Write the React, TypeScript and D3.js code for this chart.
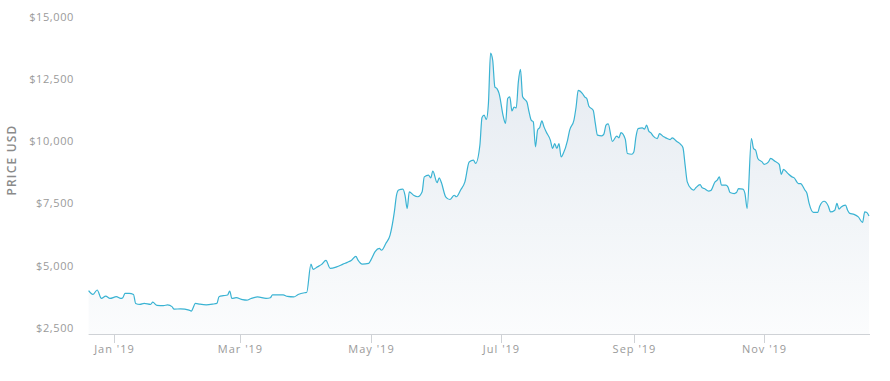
import React from "react";
import * as d3 from "d3";

const dates: string[] = [
  "2018-12-20","2018-12-22","2018-12-24","2018-12-26","2018-12-28","2018-12-30",
  "2019-01-02","2019-01-04","2019-01-05","2019-01-06","2019-01-08","2019-01-10","2019-01-11","2019-01-13","2019-01-15","2019-01-18","2019-01-19","2019-01-21","2019-01-24","2019-01-26","2019-01-28","2019-01-29",
  "2019-02-01","2019-02-05","2019-02-06","2019-02-08","2019-02-10","2019-02-13","2019-02-16","2019-02-18","2019-02-19","2019-02-21","2019-02-23","2019-02-24","2019-02-25","2019-02-27",
  "2019-03-02","2019-03-04","2019-03-06","2019-03-09","2019-03-13","2019-03-15","2019-03-16","2019-03-19","2019-03-21","2019-03-23","2019-03-26","2019-03-28","2019-03-31",
  "2019-04-01","2019-04-03","2019-04-04","2019-04-06","2019-04-08","2019-04-10","2019-04-12","2019-04-15","2019-04-18","2019-04-20","2019-04-22","2019-04-24","2019-04-25","2019-04-27","2019-04-30",
  "2019-05-01","2019-05-03","2019-05-05","2019-05-06","2019-05-08","2019-05-10","2019-05-12","2019-05-13","2019-05-14","2019-05-16","2019-05-17","2019-05-18","2019-05-19","2019-05-21","2019-05-23","2019-05-25","2019-05-26","2019-05-28","2019-05-29","2019-05-30",
  "2019-06-01","2019-06-02","2019-06-03","2019-06-05","2019-06-07","2019-06-09","2019-06-10","2019-06-12","2019-06-14","2019-06-16","2019-06-18","2019-06-19","2019-06-21","2019-06-22","2019-06-23","2019-06-24","2019-06-25","2019-06-26","2019-06-27","2019-06-28","2019-06-29","2019-06-30",
  "2019-07-02","2019-07-03","2019-07-04","2019-07-05","2019-07-06","2019-07-07","2019-07-08","2019-07-09","2019-07-10","2019-07-11","2019-07-13","2019-07-14","2019-07-15","2019-07-16","2019-07-17","2019-07-18","2019-07-19","2019-07-20","2019-07-21","2019-07-22","2019-07-24","2019-07-25","2019-07-26","2019-07-27","2019-07-28","2019-07-29","2019-07-30",
  "2019-08-01","2019-08-02","2019-08-04","2019-08-05","2019-08-06","2019-08-08","2019-08-09","2019-08-10","2019-08-11","2019-08-13","2019-08-14","2019-08-15","2019-08-17","2019-08-18","2019-08-19","2019-08-20","2019-08-22","2019-08-24","2019-08-25","2019-08-26","2019-08-28","2019-08-29","2019-08-31",
  "2019-09-01","2019-09-02","2019-09-03","2019-09-05","2019-09-06","2019-09-07","2019-09-08","2019-09-09","2019-09-10","2019-09-12","2019-09-13","2019-09-15","2019-09-16","2019-09-18","2019-09-19","2019-09-21","2019-09-23","2019-09-24","2019-09-25","2019-09-26","2019-09-28","2019-09-29","2019-09-30",
  "2019-10-02","2019-10-03","2019-10-04","2019-10-06","2019-10-07","2019-10-09","2019-10-10","2019-10-11","2019-10-12","2019-10-14","2019-10-15","2019-10-16","2019-10-18","2019-10-19","2019-10-20","2019-10-22","2019-10-23","2019-10-24","2019-10-26","2019-10-27","2019-10-28","2019-10-29","2019-10-31",
  "2019-11-01","2019-11-03","2019-11-04","2019-11-06","2019-11-08","2019-11-09","2019-11-10","2019-11-12","2019-11-14","2019-11-15","2019-11-17","2019-11-18","2019-11-20","2019-11-21","2019-11-22","2019-11-24","2019-11-25","2019-11-26","2019-11-27","2019-11-29",
  "2019-12-01","2019-12-02","2019-12-04","2019-12-05","2019-12-06","2019-12-07","2019-12-09","2019-12-10","2019-12-11","2019-12-13","2019-12-15","2019-12-17","2019-12-18","2019-12-19","2019-12-20",
];

const prices: number[] = [
  3990,3840,4020,3680,3770,3680,
  3750,3680,3710,3880,3880,3840,3480,3440,3480,3440,3530,3400,3390,3420,3350,3250,
  3260,3210,3170,3480,3450,3425,3450,3480,3750,3790,3820,3980,3680,3710,
  3630,3610,3680,3740,3680,3710,3820,3820,3820,3760,3740,3840,3910,
  3920,5060,4850,4950,5050,5210,4890,4950,5060,5130,5220,5370,5220,5060,5090,
  5220,5560,5690,5620,5890,6230,7160,7830,8040,8080,7830,7300,7970,7830,7770,7970,8570,8640,8530,8800,
  8340,8530,8340,7770,7660,7830,7770,8040,8370,9170,9240,9110,9840,10960,11050,10880,11520,13550,13260,12190,12120,11920,
  10980,10720,11720,11790,11220,11380,11340,12390,12890,11790,11580,11180,10850,10780,9780,10450,10560,10820,10580,10380,10040,9710,9910,9710,9910,9370,9510,
  10040,10450,10850,11380,12050,11920,11790,11720,11410,11250,10720,10250,10220,10290,10650,10700,10000,10210,10140,10350,10090,9510,9480,
  9570,10180,10510,10540,10490,10650,10410,10340,10220,10110,10310,10180,10140,10070,10140,10000,9870,9740,9040,8370,8080,8040,8130,
  8260,8130,8100,8000,8020,8370,8440,8570,8240,8240,8170,7940,7900,7940,8100,8080,7900,7300,10110,9710,9640,9310,9170,
  9070,9170,9310,9200,9070,8670,8870,8710,8570,8530,8300,8300,8040,7900,7500,7140,7140,7140,7400,7590,
  7390,7160,7230,7500,7270,7360,7430,7230,7100,7060,6960,6740,7160,7140,7000,
];

const yTicks: number[] = [2500, 5000, 7500, 10000, 12500, 15000];
const xTickDates: string[] = ["2019-01-01", "2019-03-01", "2019-05-01", "2019-07-01", "2019-09-01", "2019-11-01"];
const yAxisTitle = "PRICE USD";

const W = 890;
const H = 381;
const left = 88.6;
const right = 869;
const top = 17;
const bottom = 334;

export default function App() {
  const parse = d3.utcParse("%Y-%m-%d");
  const data = dates.map((d, i) => ({ date: parse(d) as Date, value: prices[i] }));

  const x = d3
    .scaleUtc()
    .domain([parse("2018-12-20") as Date, parse("2019-12-20") as Date])
    .range([left, right]);
  const y = d3.scaleLinear().domain([2250, 15000]).range([bottom, top]);

  const line = d3
    .line<{ date: Date; value: number }>()
    .x((d) => x(d.date))
    .y((d) => y(d.value))
    .curve(d3.curveMonotoneX);
  const area = d3
    .area<{ date: Date; value: number }>()
    .x((d) => x(d.date))
    .y0(bottom)
    .y1((d) => y(d.value))
    .curve(d3.curveMonotoneX);

  const fmt = d3.utcFormat("%b '%y");
  const money = (v: number) => "$" + d3.format(",")(v);

  return (
    <svg
      width={W}
      height={H}
      style={{ position: "absolute", left: 0, top: 0, background: "#fff" }}
      fontFamily="'Open Sans', sans-serif"
    >
      <defs>
        <linearGradient id="fillGrad" gradientUnits="userSpaceOnUse" x1="0" y1={top} x2="0" y2={bottom}>
          <stop offset="0" stopColor="#e2e8f0" />
          <stop offset="0.5" stopColor="#eef2f6" />
          <stop offset="1" stopColor="#fbfcfd" />
        </linearGradient>
      </defs>

      <path d={area(data) || ""} fill="url(#fillGrad)" />
      <path d={line(data) || ""} fill="none" stroke="#3ab3d3" strokeWidth={1.2} />

      {/* x axis */}
      <line x1={left} x2={right + 1} y1={bottom + 0.5} y2={bottom + 0.5} stroke="#cfd2d6" strokeWidth={1} />
      {xTickDates.map((t) => {
        const dt = parse(t) as Date;
        const xp = Math.round(x(dt)) + 0.5;
        return (
          <g key={t}>
            <line x1={xp} x2={xp} y1={bottom} y2={bottom + 9} stroke="#cfd2d6" strokeWidth={1} />
            <text
              x={xp}
              y={353}
              textAnchor="middle"
              fontSize={11}
              letterSpacing={1}
              fill="#9a9a9a"
            >
              {fmt(dt)}
            </text>
          </g>
        );
      })}

      {/* y labels */}
      {yTicks.map((v) => (
        <text
          key={v}
          x={74}
          y={y(v) + 4}
          textAnchor="end"
          fontSize={11}
          letterSpacing={0.6}
          fill="#9a9a9a"
        >
          {money(v)}
        </text>
      ))}

      <text
        transform={`translate(16, 160) rotate(-90)`}
        textAnchor="middle"
        fontSize={12}
        fontWeight={600}
        letterSpacing={1.2}
        fill="#8a8a8a"
      >
        {yAxisTitle}
      </text>
    </svg>
  );
}
